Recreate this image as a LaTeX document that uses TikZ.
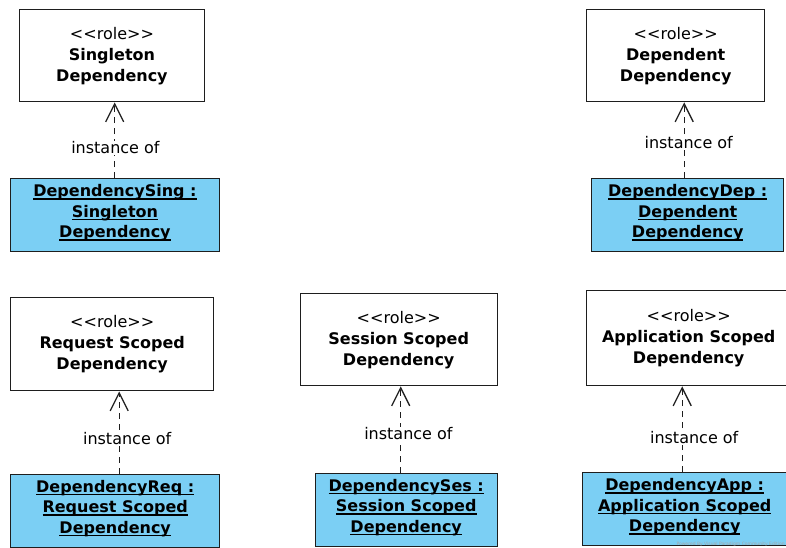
\documentclass[tikz,border=0pt]{standalone}
\usepackage{fontspec}
\setmainfont{DejaVu Sans}
\usetikzlibrary{arrows.meta}
\definecolor{instblue}{HTML}{7BCFF4}
\definecolor{edgecol}{HTML}{1E1E1E}
\newcommand{\uln}[1]{\leavevmode\setbox0=\hbox{#1}\hbox to 0pt{\rule[-3.2pt]{\wd0}{1.3pt}\hss}\box0}
\newcommand{\rolehead}{{<}{<}role{>}{>}}
\begin{document}
\begin{tikzpicture}[x=1pt,y=-1pt,
  box/.style={draw=edgecol, line width=1.4pt, rectangle, align=center, inner sep=0pt, anchor=north west},
  rolebox/.style={box, fill=white, font=\fontsize{16}{21}\selectfont},
  instbox/.style={box, fill=instblue, font=\fontsize{16}{20.5}\selectfont, text depth=8.5pt},
  instof/.style={draw=edgecol, line width=1.3pt, dash pattern=on 6pt off 5pt,
    -{Straight Barb[length=18pt,width=18pt,line width=1.3pt]}},
  lab/.style={fill=white, inner sep=1pt, font=\fontsize{16}{19}\selectfont},
  wm/.style={text=gray!70, font=\fontsize{4.5}{5}\selectfont, inner sep=0pt, anchor=east}]
\useasboundingbox (0,0) rectangle (786,547);
\clip (0,0) rectangle (786,547);
\fill[white] (0,0) rectangle (786,547);

% role boxes
\node[rolebox, minimum width=185.5pt, minimum height=92pt] (sr) at (18.5,9)
  {\rolehead\\\textbf{Singleton}\\\textbf{Dependency}};
\node[rolebox, minimum width=178pt, minimum height=92pt] (dr) at (586,9)
  {\rolehead\\\textbf{Dependent}\\\textbf{Dependency}};
\node[rolebox, minimum width=203pt, minimum height=93pt] (rr) at (10,297)
  {\rolehead\\\textbf{Request Scoped}\\\textbf{Dependency}};
\node[rolebox, minimum width=197pt, minimum height=92pt] (ssr) at (299.5,293)
  {\rolehead\\\textbf{Session Scoped}\\\textbf{Dependency}};
\node[rolebox, minimum width=204pt, minimum height=95.5pt] (ar) at (586,289.5)
  {\rolehead\\\textbf{Application Scoped}\\\textbf{Dependency}};

% instance boxes
\node[instbox, minimum width=209.5pt, minimum height=73pt] (si) at (9.5,178)
  {\textbf{\uln{DependencySing :}}\\\textbf{\uln{Singleton}}\\\textbf{\uln{Dependency}}};
\node[instbox, minimum width=192pt, minimum height=73pt] (di) at (591,178)
  {\textbf{\uln{DependencyDep :}}\\\textbf{\uln{Dependent}}\\\textbf{\uln{Dependency}}};
\node[instbox, minimum width=209pt, minimum height=73pt] (ri) at (10,473.5)
  {\textbf{\uln{DependencyReq :}}\\\textbf{\uln{Request Scoped}}\\\textbf{\uln{Dependency}}};
\node[instbox, minimum width=182pt, minimum height=73pt] (ssi) at (314.5,472.5)
  {\textbf{\uln{DependencySes :}}\\\textbf{\uln{Session Scoped}}\\\textbf{\uln{Dependency}}};
\node[instbox, minimum width=204pt, minimum height=73pt] (ai) at (582,472)
  {\textbf{\uln{DependencyApp :}}\\\textbf{\uln{Application Scoped}}\\\textbf{\uln{Dependency}}};

% instance-of connectors
\draw[instof] ([xshift=-0.25pt]si.north) -- node[lab, pos=0.40, xshift=0.7pt] {instance of} ([xshift=-0.25pt]si.north |- sr.south);
\draw[instof] ([xshift=-3.5pt]di.north) -- node[lab, pos=0.475, xshift=4.5pt] {instance of} ([xshift=-3.5pt]di.north |- dr.south);
\draw[instof] ([xshift=4pt]ri.north) -- node[lab, pos=0.42, xshift=8pt] {instance of} ([xshift=4pt]ri.north |- rr.south);
\draw[instof] ([xshift=-5.5pt]ssi.north) -- node[lab, pos=0.45, xshift=7.7pt] {instance of} ([xshift=-5.5pt]ssi.north |- ssr.south);
\draw[instof] ([xshift=-2.5pt]ai.north) -- node[lab, pos=0.405, xshift=12pt] {instance of} ([xshift=-2.5pt]ai.north |- ar.south);

% watermark
\node[wm] (wmark) at (785,544) {Powered By Visual Paradigm Community Edition};
\end{tikzpicture}
\end{document}
